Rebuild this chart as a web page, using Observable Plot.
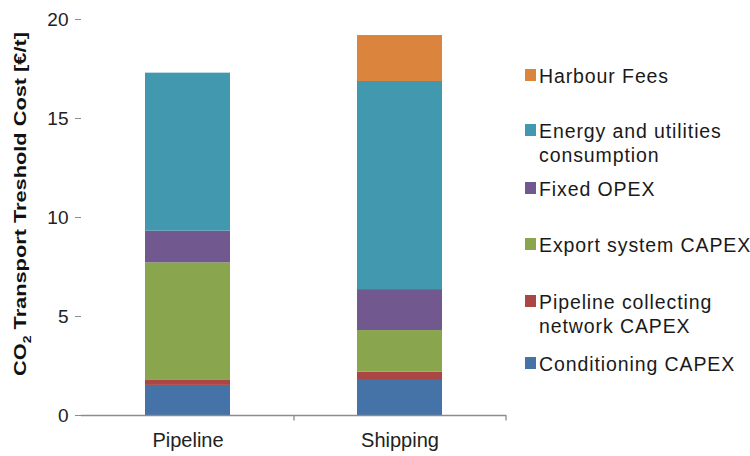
<!DOCTYPE html>
<html><head><meta charset="utf-8">
<script src="https://cdn.jsdelivr.net/npm/d3@7"></script>
<script src="https://cdn.jsdelivr.net/npm/@observablehq/plot@0.6"></script>
<style>
body{margin:0;background:#fff;font-family:"Liberation Sans",Arial,sans-serif;}
#wrap{position:relative;width:750px;height:456px;overflow:hidden;}
.leg{position:absolute;left:525px;font-size:19.5px;letter-spacing:0.9px;color:#1a1a1a;line-height:24px;}
.leg span.sw{position:absolute;left:0;top:5px;width:11px;height:12px;}
.leg div.t{margin-left:14px;white-space:nowrap;}
#ylab{position:absolute;left:22px;top:204px;transform:translate(-50%,-50%) rotate(-90deg) scaleX(1.28);font-size:17px;font-weight:bold;white-space:nowrap;color:#111;}
</style></head><body>
<div id="wrap"><div id="ylab">CO<sub style="font-size:11px">2</sub> Transport Treshold Cost [€/t]</div></div>
<script>
const categories = ["Pipeline", "Shipping"];
const components = ["Conditioning CAPEX", "Pipeline collecting network CAPEX", "Export system CAPEX", "Fixed OPEX", "Energy and utilities consumption", "Harbour Fees"];
const pipelineValues = [1.52, 0.25, 5.94, 1.60, 7.98, 0];
const shippingValues = [1.77, 0.42, 2.10, 2.07, 10.51, 2.32];
const colors = ["#4572a7", "#aa4643", "#89a54e", "#71588f", "#4198af", "#db843d"];
const yTicks = [0, 5, 10, 15, 20];
const legendOrder = ["Harbour Fees", "Energy and utilities consumption", "Fixed OPEX", "Export system CAPEX", "Pipeline collecting network CAPEX", "Conditioning CAPEX"];
const legendLines = {"Energy and utilities consumption": ["Energy and utilities", "consumption"], "Pipeline collecting network CAPEX": ["Pipeline collecting", "network CAPEX"]};
const legendTop = [63.5, 119, 177, 233, 290, 352];

const rows = [];
components.forEach((c, i) => {
  rows.push({cat: "Pipeline", comp: c, value: pipelineValues[i]});
  rows.push({cat: "Shipping", comp: c, value: shippingValues[i]});
});

const chart = Plot.plot({
  width: 750, height: 456,
  marginLeft: 81, marginRight: 244, marginTop: 19, marginBottom: 41,
  style: {fontFamily: "'Liberation Sans', Arial, sans-serif", background: "transparent"},
  x: {domain: categories, paddingInner: 0.6, paddingOuter: 0.3, label: null, axis: null},
  y: {domain: [0, 20], ticks: yTicks, label: null, axis: null},
  color: {domain: components, range: colors},
  marks: [
    Plot.barY(rows, Plot.stackY({x: "cat", y: "value", fill: "comp", order: components})),
    Plot.ruleY([0], {stroke: "#8c8c8c", strokeWidth: 1.3}),
    Plot.ruleX([0], {stroke: "#8c8c8c", strokeWidth: 1.3, frameAnchor: "left"}),
    Plot.axisY({ticks: yTicks, tickSize: 6, tickPadding: 7, stroke: "#8c8c8c", fontSize: 19, fill: "#222", label: null, tickFormat: d => d}),
    Plot.axisX({tickSize: 0, tickPadding: 17, fontSize: 20, fill: "#222", label: null}),
    Plot.ruleX(categories, {x: d => d, y1: 0, y2: -0.28, dx: 106, stroke: "#8c8c8c", strokeWidth: 1.3})
  ]
});
chart.style.position = "absolute";
chart.style.left = "0"; chart.style.top = "0";
const wrap = document.getElementById("wrap");
wrap.insertBefore(chart, wrap.firstChild);

legendOrder.forEach((name, i) => {
  const d = document.createElement("div");
  d.className = "leg";
  d.style.top = legendTop[i] + "px";
  const sw = document.createElement("span");
  sw.className = "sw";
  sw.style.background = colors[components.indexOf(name)];
  d.appendChild(sw);
  (legendLines[name] || [name]).forEach(l => {
    const t = document.createElement("div"); t.className = "t"; t.textContent = l; d.appendChild(t);
  });
  wrap.appendChild(d);
});
</script></body></html>
